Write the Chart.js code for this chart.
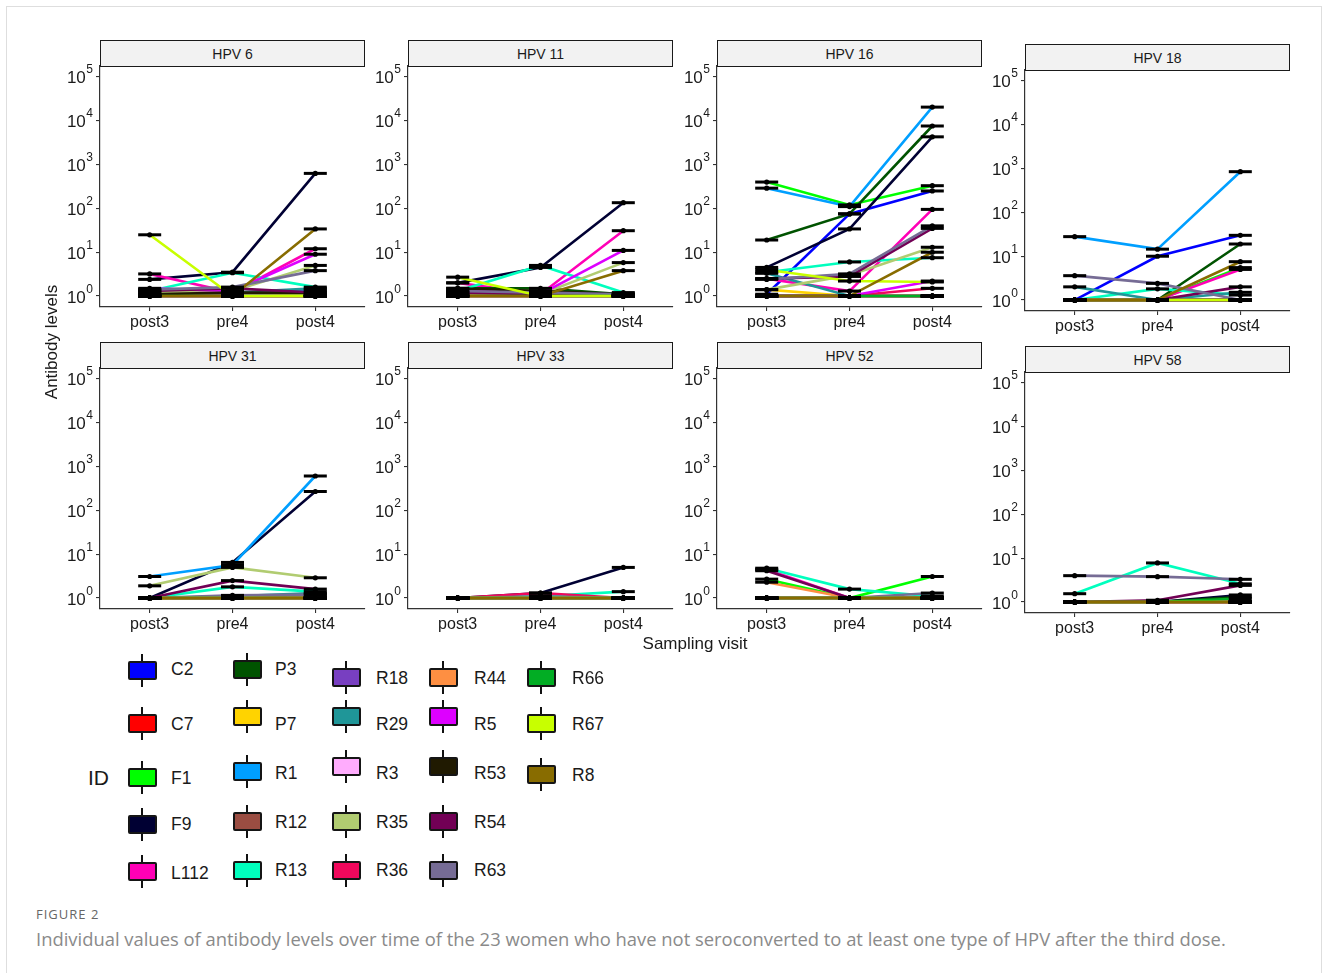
<!DOCTYPE html>
<html>
<head>
<meta charset="utf-8">
<title>Antibody levels by HPV type</title>
<script src="https://cdn.jsdelivr.net/npm/chart.js@4.4.1/dist/chart.umd.min.js"></script>
<style>
  html, body { margin: 0; padding: 0; background: #fff; }
  body { position: relative; width: 1328px; height: 973px; overflow: hidden;
         font-family: "Liberation Sans", Arial, sans-serif; color: #1a1a1a; }
  .frame { position: absolute; left: 6px; top: 6px; width: 1316px; height: 1000px;
           border: 1px solid #dedede; box-sizing: border-box; }
  canvas { position: absolute; }
  .strip { position: absolute; box-sizing: border-box; border: 1.3px solid #1a1a1a;
           background: #f2f2f2; font-size: 14px; color: #1a1a1a;
           display: flex; align-items: center; justify-content: center; }
  .ytitle { position: absolute; width: 240px; text-align: center; font-size: 17px;
            line-height: 20px; transform: rotate(-90deg); transform-origin: 50% 50%; }
  .xtitle { position: absolute; width: 240px; text-align: center; font-size: 17px; line-height: 20px; }
  .legtitle { position: absolute; font-size: 21px; line-height: 24px; }
  .key { position: absolute; width: 29px; height: 19px; }
  .key .whisk { position: absolute; left: 13.5px; top: -7px; width: 2px; height: 33px; background: #111; }
  .key .box { position: absolute; left: 0; top: 0; width: 29px; height: 19px; box-sizing: border-box;
              border: 2px solid #151515; border-radius: 2px; }
  .klab { position: absolute; font-size: 17.5px; line-height: 20px; }
  .fig { position: absolute; left: 36px; font-family: "Open Sans", sans-serif; }
</style>
</head>
<body>
<div class="frame"></div>
<script>
// ---- data ----------------------------------------------------------------
const visits = ['post3', 'pre4', 'post4'];
const hpvTypes = ['HPV 6', 'HPV 11', 'HPV 16', 'HPV 18', 'HPV 31', 'HPV 33', 'HPV 52', 'HPV 58'];
const ids = ['C2', 'C7', 'F1', 'F9', 'L112', 'P3', 'P7', 'R1', 'R12', 'R13', 'R18', 'R29',
             'R3', 'R35', 'R36', 'R44', 'R5', 'R53', 'R54', 'R63', 'R66', 'R67', 'R8'];
const idColors = ['#0000FF', '#FF0000', '#00FF00', '#000033', '#FF00B6', '#005300', '#FFD300',
                  '#009FFF', '#9A4D42', '#00FFBE', '#783FC1', '#1F9698', '#FFACFD', '#B1CC71',
                  '#F1085C', '#FE8F42', '#DD00FF', '#201A01', '#720055', '#766C95', '#02AD24',
                  '#C8FF00', '#886C00'];
const yTickPowers = [0, 1, 2, 3, 4, 5];

// antibody level per ID (same order as ids): [post3, pre4, post4]
const hpv6 = [
  [1, 1, 1], [1, 1, 1], [1.1, 1, 1.1], [2.4, 3.5, 630], [3.2, 1.2, 12],
  [1.2, 1.1, 1.3], [1, 1, 1], [1, 1, 1.4], [1, 1, 1], [1.3, 3.4, 1.6],
  [1, 1, 1], [1.4, 1.2, 1.5], [1, 1, 1], [1.2, 1.3, 5], [1, 1, 1],
  [1, 1, 1], [1.5, 1.3, 9], [1.1, 1.2, 1.2], [1.3, 1.5, 1.2], [1.4, 1.6, 3.8],
  [1, 1, 1], [25, 1, 1], [1, 1, 34]
];
const hpv11 = [
  [1, 1, 1], [1, 1, 1], [1.1, 1, 1], [2.0, 4.5, 135], [2.0, 1.1, 31],
  [1.5, 1.5, 1.1], [1, 1, 1], [1.2, 1, 1], [1, 1, 1], [1.3, 5, 1.2],
  [1, 1, 1], [1.2, 1.1, 1.1], [1, 1, 1], [1.1, 1.1, 5.8], [1, 1, 1],
  [1, 1, 1], [1.4, 1.1, 11], [1.5, 1.3, 1.1], [1.2, 1.1, 1], [1.3, 1.2, 1.1],
  [1, 1, 1], [2.7, 1, 1], [1, 1, 3.8]
];
const hpv16 = [
  [1.1, 75, 250], [1, 1, 1], [400, 120, 330], [4.5, 34, 4300], [2.5, 1.3, 95],
  [19, 75, 7600], [1.4, 1, 1], [290, 110, 20500], [1, 1, 1], [3.5, 6, 7.5],
  [1, 1, 1], [3.3, 1, 1], [1, 1, 1], [1.4, 3, 13], [1, 1, 1.5],
  [1, 1, 1], [1, 1, 2.2], [1, 1, 1], [2.5, 2.8, 35], [2.4, 3.2, 40],
  [1, 1, 1], [4, 2.2, 2.1], [1, 1, 10]
];
const hpv18 = [
  [1, 10, 30], [1, 1, 1], [1, 1, 5.5], [1, 1, 1], [1, 1, 5],
  [1, 1, 19], [1, 1, 1], [28, 14.5, 850], [1, 1, 1], [1, 1.8, 1.3],
  [1, 1, 1], [2, 1, 1.5], [1, 1, 1], [1, 1, 1], [1, 1, 1],
  [1, 1, 1], [1, 1, 1], [1, 1, 1], [1, 1, 2], [3.6, 2.4, 1],
  [1, 1, 1], [1, 1, 1], [1, 1, 7.5]
];
const hpv31 = [
  [1, 1, 1], [1, 1, 1], [1, 1, 1], [1, 6.5, 270], [1, 1, 1],
  [1, 1, 1.2], [1, 1, 1], [3.1, 5.7, 610], [1, 1, 1], [1, 1.8, 1.4],
  [1, 1, 1], [1, 1.1, 1.3], [1, 1, 1], [1.9, 5, 2.9], [1, 1, 1],
  [1, 1, 1], [1, 1, 1], [1, 1, 1], [1, 2.5, 1.6], [1, 1.15, 1.2],
  [1, 1, 1], [1, 1, 1], [1, 1, 1]
];
const hpv33 = [
  [1, 1, 1], [1, 1, 1], [1, 1, 1], [1, 1.3, 5], [1, 1, 1],
  [1, 1, 1], [1, 1, 1], [1, 1, 1], [1, 1, 1], [1, 1.1, 1.4],
  [1, 1, 1], [1, 1, 1], [1, 1, 1], [1, 1, 1], [1, 1.3, 1],
  [1, 1, 1], [1, 1, 1], [1, 1, 1], [1, 1, 1], [1, 1.1, 1],
  [1, 1, 1], [1, 1, 1], [1, 1, 1]
];
const hpv52 = [
  [1, 1, 1], [1, 1, 1], [2.7, 1, 3.1], [1, 1, 1], [4.5, 1, 1],
  [1, 1, 1], [1, 1, 1], [1, 1, 1], [1, 1, 1], [4.8, 1.6, 1.1],
  [1, 1, 1], [1, 1, 1], [1, 1, 1], [1, 1, 1], [1, 1, 1],
  [2.3, 1, 1], [1, 1, 1], [1, 1, 1], [4.2, 1, 1], [1, 1, 1.3],
  [1, 1, 1], [1, 1, 1], [1, 1, 1]
];
const hpv58 = [
  [1, 1, 1], [1, 1, 1], [1, 1, 1], [1, 1, 1.45], [1, 1, 1],
  [1, 1, 1.3], [1, 1, 1], [1, 1, 1], [1, 1, 1], [1.55, 7.8, 2.6],
  [1, 1, 1], [1, 1, 1], [1, 1, 1], [1, 1, 1], [1, 1, 1],
  [1, 1, 1], [1, 1, 1], [1, 1, 1], [1, 1.1, 2.4], [4, 3.8, 3.3],
  [1, 1, 1.2], [1, 1, 1], [1, 1, 1]
];
const panelValues = [hpv6, hpv11, hpv16, hpv18, hpv31, hpv33, hpv52, hpv58];

// ---- layout ----------------------------------------------------------------
const FONT = '"Liberation Sans", Arial, sans-serif';
const colLeft = [100, 408, 717, 1025];
const rowTop = [66, 368];
const lastColDrop = 4;          // the right-hand column sits a little lower
const PW = 265, PH = 241;       // plot area size
const AXW = 62, AXH = 34, PADR = 8, PADT = 16;
const STRIP_H = 26;

// y tick labels drawn as 10 with a raised exponent
const powerTicks = {
  id: 'powerTicks',
  afterDraw(chart) {
    const ctx = chart.ctx, ys = chart.scales.y;
    const xr = chart.chartArea.left - 7;
    ctx.save();
    ctx.fillStyle = '#1a1a1a';
    ctx.textAlign = 'right';
    ctx.textBaseline = 'alphabetic';
    yTickPowers.forEach(p => {
      const py = ys.getPixelForValue(Math.pow(10, p));
      ctx.font = '12px ' + FONT;
      const ew = ctx.measureText(String(p)).width;
      ctx.fillText(String(p), xr, py - 3.5);
      ctx.font = '17px ' + FONT;
      ctx.fillText('10', xr - ew - 0.5, py + 6.5);
    });
    ctx.restore();
  }
};

function makePanel(k) {
  const col = k % 4, row = Math.floor(k / 4);
  const left = colLeft[col];
  const top = rowTop[row] + (col === 3 ? lastColDrop : 0);

  const strip = document.createElement('div');
  strip.className = 'strip';
  strip.textContent = hpvTypes[k];
  Object.assign(strip.style, { left: left + 'px', top: (top - STRIP_H) + 'px',
                               width: PW + 'px', height: (STRIP_H + 1) + 'px' });
  document.body.appendChild(strip);

  const cv = document.createElement('canvas');
  const W = AXW + PW + PADR, H = PADT + PH + AXH;
  cv.width = W; cv.height = H;
  Object.assign(cv.style, { left: (left - AXW) + 'px', top: (top - PADT) + 'px', width: W + 'px', height: H + 'px' });
  document.body.appendChild(cv);

  const vals = panelValues[k];
  const pts = vals.flatMap(t => t.map((v, j) => ({ x: j + 1, y: v })));
  const datasets = ids.map((id, i) => ({
    label: id,
    data: vals[i].map((v, j) => ({ x: j + 1, y: v })),
    borderColor: idColors[i],
    backgroundColor: idColors[i],
    borderWidth: 2.6,
    pointRadius: 0,
    tension: 0,
    fill: false,
    order: 100 - i
  }));
  datasets.push({
    label: 'bars', data: pts, showLine: false, pointStyle: 'line',
    pointRadius: 11.5, pointBorderWidth: 3, pointBorderColor: '#000', borderColor: '#000', order: 2
  });
  datasets.push({
    label: 'points', data: pts, showLine: false, pointStyle: 'circle',
    pointRadius: 2.6, pointBorderWidth: 0, pointBackgroundColor: '#000', borderColor: '#000', order: 1
  });

  const axisGrid = { display: true, drawOnChartArea: false, drawTicks: true, tickLength: 4,
                     color: '#333', lineWidth: 1.1 };
  const axisBorder = { display: true, color: '#333', width: 1.2 };

  new Chart(cv, {
    type: 'line',
    data: { datasets },
    options: {
      responsive: false, animation: false, devicePixelRatio: 1, events: [],
      layout: { autoPadding: false, padding: { left: 0, right: PADR, top: PADT, bottom: 0 } },
      plugins: { legend: { display: false }, tooltip: { enabled: false } },
      scales: {
        x: {
          type: 'linear', min: 0.4, max: 3.6, bounds: 'data',
          afterBuildTicks: s => { s.ticks = visits.map((v, j) => ({ value: j + 1 })); },
          afterFit: s => { s.height = AXH; },
          ticks: { callback: v => visits[v - 1], autoSkip: false, maxRotation: 0,
                   font: { family: FONT, size: 16 }, color: '#1a1a1a', padding: 2 },
          grid: axisGrid, border: axisBorder
        },
        y: {
          type: 'logarithmic', min: Math.pow(10, -0.25), max: Math.pow(10, 5.25), bounds: 'data',
          afterBuildTicks: s => { s.ticks = yTickPowers.map(p => ({ value: Math.pow(10, p) })); },
          afterFit: s => { s.width = AXW; s.paddingTop = 0; s.paddingBottom = 0; },
          ticks: { display: false, autoSkip: false },
          grid: axisGrid, border: axisBorder
        }
      }
    },
    plugins: [powerTicks]
  });
}

hpvTypes.forEach((t, k) => makePanel(k));

// ---- axis titles ---------------------------------------------------------
function addDiv(cls, text, style) {
  const d = document.createElement('div');
  d.className = cls;
  d.textContent = text;
  Object.assign(d.style, style);
  document.body.appendChild(d);
  return d;
}
addDiv('ytitle', 'Antibody levels', { left: (52 - 120) + 'px', top: (342 - 10) + 'px' });
addDiv('xtitle', 'Sampling visit', { left: (695 - 120) + 'px', top: (644 - 10) + 'px' });

// ---- legend ----------------------------------------------------------------
const legCols = [
  { keyX: 142, labX: 171, keyY: [670, 723, 777, 824, 871], labY: [669, 724, 778, 824, 873] },
  { keyX: 247, labX: 275, keyY: [669, 716, 771, 821, 870], labY: [669, 724, 773, 822, 870] },
  { keyX: 346, labX: 376, keyY: [677, 716, 766, 821, 870], labY: [678, 724, 773, 822, 870] },
  { keyX: 443, labX: 474, keyY: [677, 716, 766, 821, 870], labY: [678, 724, 773, 822, 870] },
  { keyX: 541, labX: 572, keyY: [677, 723, 774], labY: [678, 724, 775] }
];
addDiv('legtitle', 'ID', { left: '88px', top: (778 - 12) + 'px' });
let n = 0;
legCols.forEach(c => {
  c.keyY.forEach((ky, r) => {
    const i = n++;
    const key = document.createElement('div');
    key.className = 'key';
    key.style.left = (c.keyX - 14.5) + 'px';
    key.style.top = (ky - 9.5) + 'px';
    const wh = document.createElement('div'); wh.className = 'whisk';
    const bx = document.createElement('div'); bx.className = 'box';
    bx.style.background = idColors[i];
    key.appendChild(wh); key.appendChild(bx);
    document.body.appendChild(key);
    addDiv('klab', ids[i], { left: c.labX + 'px', top: (c.labY[r] - 10) + 'px' });
  });
});

// ---- caption ---------------------------------------------------------------
addDiv('fig', 'FIGURE 2', { top: '905px', fontSize: '13px', letterSpacing: '1px', color: '#666', fontWeight: '500' });
addDiv('fig', 'Individual values of antibody levels over time of the 23 women who have not seroconverted to at least one type of HPV after the third dose.',
       { top: '926px', fontSize: '18.4px', color: '#8a8a8a', whiteSpace: 'nowrap' });
</script>
</body>
</html>
